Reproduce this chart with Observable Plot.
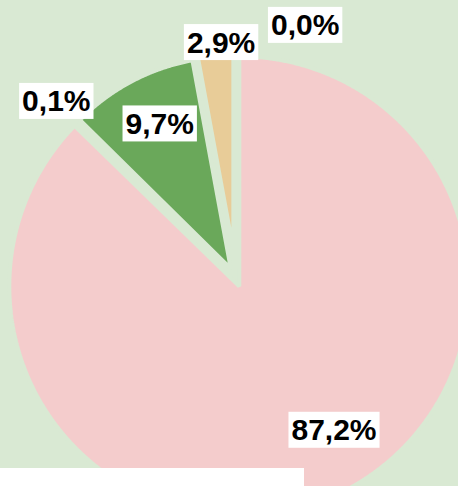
<!DOCTYPE html>
<html>
<head>
<meta charset="utf-8">
<script src="https://cdn.jsdelivr.net/npm/d3@7"></script>
<script src="https://cdn.jsdelivr.net/npm/@observablehq/plot@0.6"></script>
<style>
  html, body { margin: 0; padding: 0; background: #d9e9d3; }
  #chart { position: relative; width: 458px; height: 486px; overflow: hidden; }
  #chart svg { display: block; }
  #strip { position: absolute; left: 0; top: 468px; width: 304px; height: 18px; background: #ffffff; }
</style>
</head>
<body>
<div id="chart"><div id="strip"></div></div>
<script>
// ---- data ----
const categories = ["Catégorie 1", "Catégorie 2", "Catégorie 3", "Catégorie 4", "Catégorie 5"];
const values = [87.2, 0.1, 9.7, 2.9, 0.0];
const colors = ["#f4cccc", "#93c47d", "#6aa85a", "#e8cc98", "#c9c9c9"];

// ---- layout (styling, not data) ----
const bg = "#d9e9d3";
const explode = [8.5, 8, 11, 29, 10];      // slice offset from centre
const radius = [230, 212, 212, 214, 214];  // drawn radius per slice
const labelRadius = [181, 252, 172, 236, 262];
const labelShiftDeg = [-9.9, 0.1, 1.6, 1.6, 15.3];

const pie = d3.pie().sort(null).value(d => d)(values);

const slices = pie.map((p, i) => {
  const mid = (p.startAngle + p.endAngle) / 2;
  const cx = explode[i] * Math.sin(mid), cy = explode[i] * Math.cos(mid);
  const pts = [{x: cx, y: cy}];
  const n = Math.max(2, Math.ceil((p.endAngle - p.startAngle) / 0.005));
  for (let k = 0; k <= n; k++) {
    const a = p.startAngle + (p.endAngle - p.startAngle) * k / n;
    pts.push({x: cx + radius[i] * Math.sin(a), y: cy + radius[i] * Math.cos(a)});
  }
  return {i, pts, mid};
});

const fmt = v => v.toFixed(1).replace(".", ",") + "%";
const labels = pie.map((p, i) => {
  const a = (p.startAngle + p.endAngle) / 2 + labelShiftDeg[i] * Math.PI / 180;
  return {x: labelRadius[i] * Math.sin(a), y: labelRadius[i] * Math.cos(a), text: fmt(values[i])};
});

const chart = Plot.plot({
  width: 458,
  height: 486,
  margin: 0,
  x: {domain: [-235.5, 222.5], axis: null},
  y: {domain: [-208, 278], axis: null},
  style: {background: bg, overflow: "visible"},
  marks: [
    ...slices.map(s => Plot.line(s.pts, {
      x: "x", y: "y", curve: "linear-closed",
      fill: colors[s.i], stroke: bg, strokeWidth: 4, strokeLinejoin: "miter"
    })),
    Plot.text(labels, {
      x: "x", y: "y", text: "text",
      fontSize: 30, fontWeight: "bold",
      fontFamily: "'Liberation Sans', Arial, sans-serif",
      fill: "#000000"
    })
  ]
});

document.getElementById("chart").prepend(chart);

// white boxes behind the labels
const textGroup = chart.querySelector('g[aria-label="text"]');
if (textGroup) {
  textGroup.querySelectorAll("text").forEach(t => {
    const b = t.getBBox();
    const r = document.createElementNS("http://www.w3.org/2000/svg", "rect");
    r.setAttribute("x", b.x - 3);
    r.setAttribute("y", b.y - 1.5);
    r.setAttribute("width", b.width + 6);
    r.setAttribute("height", b.height + 3);
    r.setAttribute("fill", "#ffffff");
    const tr = t.getAttribute("transform");
    if (tr) r.setAttribute("transform", tr);
    textGroup.insertBefore(r, t);
  });
}
</script>
</body>
</html>
